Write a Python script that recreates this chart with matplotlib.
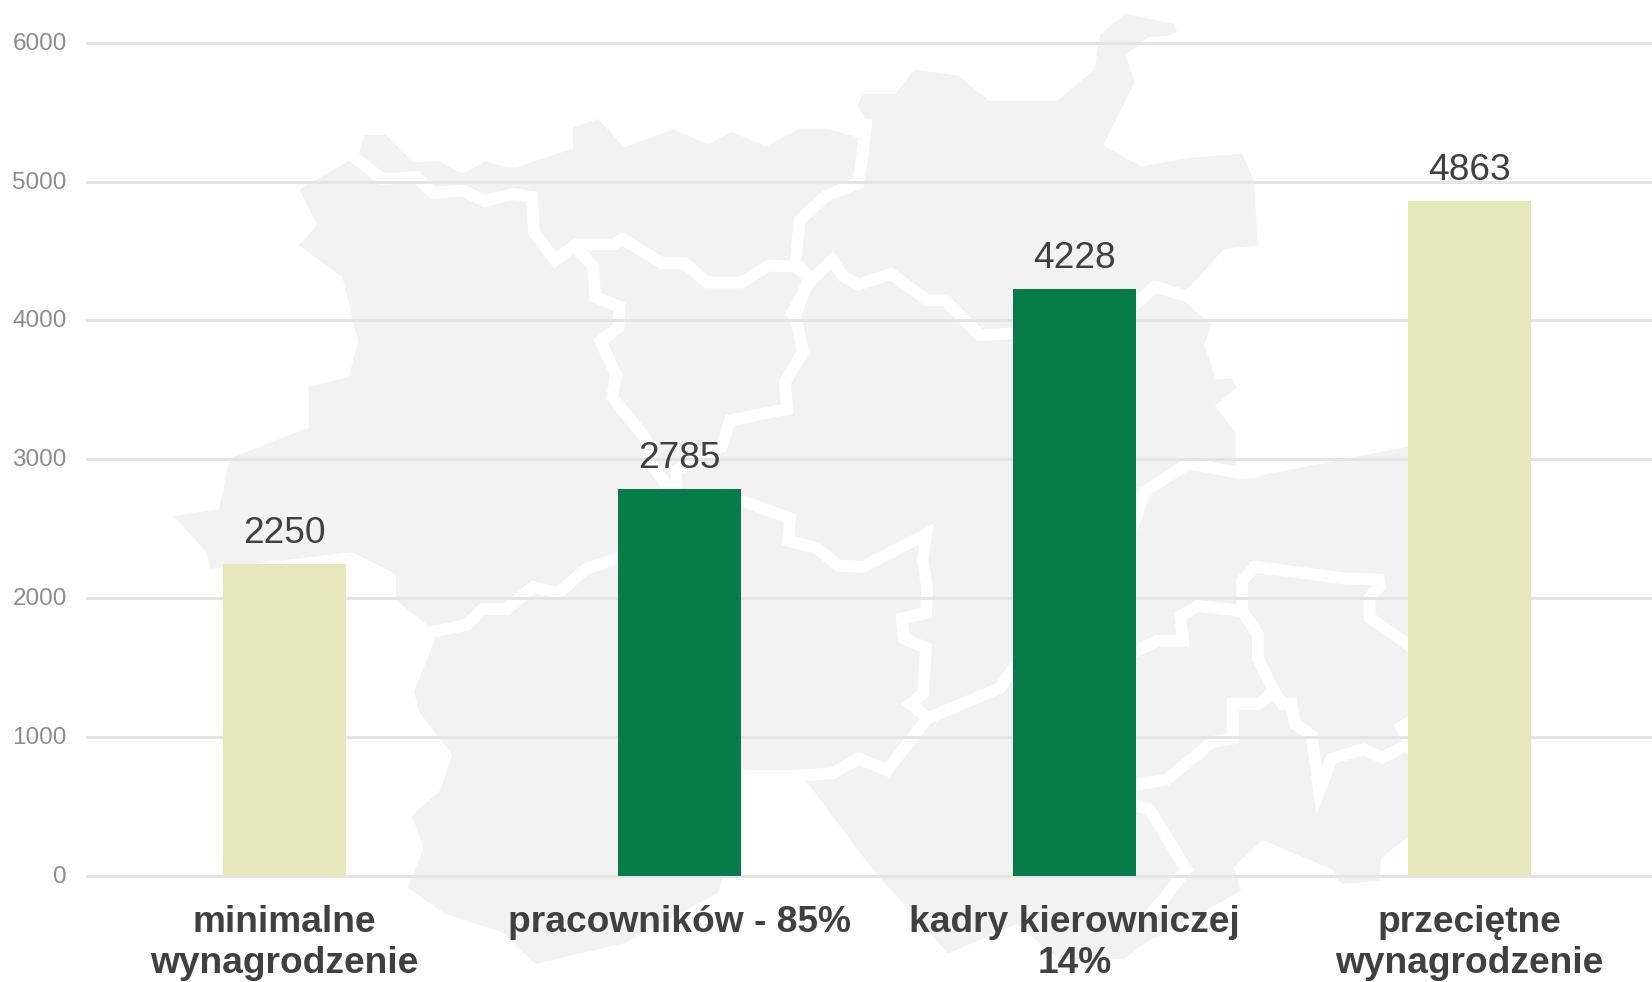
import matplotlib.pyplot as plt
from matplotlib.transforms import ScaledTranslation

plt.rcParams['font.family'] = ['Liberation Sans', 'DejaVu Sans']

categories = ['minimalne\nwynagrodzenie', 'pracowników - 85%', 'kadry kierowniczej\n14%', 'przeciętne\nwynagrodzenie']
values = [2250, 2785, 4228, 4863]
bar_colors = ['#e5e6b9', '#087c48', '#087c48', '#e5e6b9']
y_ticks = [0, 1000, 2000, 3000, 4000, 5000, 6000]

# background map, traced in pixels of the 1568x932 view
map_outline = [(346, 128), (366, 128), (392, 154), (417, 153), (439, 165), (461, 153), (473, 157), (489, 159),
               (544, 141), (544, 121), (568, 113), (592, 140), (639, 123), (673, 137), (694, 125), (727, 139),
               (759, 122), (784, 122), (816, 131), (826, 120), (814, 100), (819, 89), (850, 89), (868, 66),
               (910, 72), (939, 96), (1003, 96), (1039, 66), (1044, 33), (1068, 13), (1115, 23), (1117, 30),
               (1109, 34), (1091, 35), (1068, 52), (1077, 78), (1047, 138), (1083, 158), (1129, 150), (1179, 146),
               (1190, 171), (1194, 233), (1162, 236), (1126, 276), (1124, 286), (1150, 308), (1143, 327), (1154, 360),
               (1169, 359), (1174, 368), (1153, 385), (1173, 411), (1173, 442), (1182, 454), (1336, 424), (1400, 410),
               (1400, 780), (1336, 795), (1311, 814), (1309, 836), (1274, 839), (1264, 825), (1198, 797), (1171, 823),
               (1178, 845), (1142, 866), (1118, 880), (1090, 893), (1067, 910), (1005, 910), (965, 877), (900, 905),
               (829, 826), (765, 741), (765, 731), (700, 731), (685, 833), (682, 847), (593, 895), (508, 915),
               (477, 885), (422, 867), (387, 843), (402, 805), (391, 774), (418, 750), (429, 716), (398, 676),
               (393, 656), (413, 607), (408, 595), (376, 570), (376, 545), (334, 524), (200, 540), (195, 523),
               (165, 490), (208, 483), (218, 435), (293, 406), (293, 367), (331, 358), (340, 324), (325, 263),
               (284, 233), (301, 213), (284, 180), (331, 153), (341, 145)]
map_borders = [
    [(336, 149), (363, 170), (395, 168), (411, 183), (440, 181), (460, 191), (488, 184), (505, 187), (507, 221),
     (527, 247), (547, 232), (583, 232), (591, 227), (629, 250), (650, 250), (671, 268), (704, 268), (730, 252),
     (755, 253), (768, 263)],
    [(547, 235), (563, 253), (565, 282), (588, 291), (587, 311), (570, 324), (585, 356), (581, 377), (612, 415),
     (620, 443), (631, 458), (631, 470)],
    [(768, 263), (755, 250), (759, 209), (784, 186), (814, 174), (818, 152), (822, 118)],
    [(768, 263), (755, 299), (762, 334), (745, 363), (747, 388), (693, 399), (685, 424), (642, 446), (642, 470)],
    [(752, 297), (768, 268), (790, 247), (800, 262), (815, 270), (846, 260), (880, 285), (897, 285), (930, 318),
     (970, 316)],
    [(1070, 295), (1096, 272), (1126, 281), (1140, 272)],
    [(1075, 500), (1087, 466), (1128, 440), (1177, 449), (1190, 448)],
    [(404, 601), (443, 593), (458, 578), (481, 578), (506, 557), (530, 563), (556, 540), (600, 525)],
    [(690, 470), (750, 492), (748, 513), (775, 520), (796, 537), (819, 538), (879, 507), (876, 532), (880, 558),
     (879, 582), (856, 587), (858, 606), (879, 615), (876, 658), (864, 668), (879, 680)],
    [(760, 736), (790, 734), (815, 720), (842, 731), (880, 682), (949, 653), (965, 630)],
    [(1070, 622), (1099, 608), (1123, 608), (1120, 585), (1137, 575), (1179, 580), (1194, 602), (1194, 625),
     (1209, 656), (1217, 668), (1226, 668), (1229, 687), (1245, 698), (1252, 751), (1264, 720), (1294, 711),
     (1312, 719), (1345, 702)],
    [(1179, 580), (1179, 551), (1191, 538), (1277, 549), (1309, 550), (1310, 556), (1300, 567), (1300, 586),
     (1345, 618)],
    [(1209, 656), (1195, 668), (1170, 668), (1170, 701), (1151, 704), (1107, 740), (1070, 746)],
    [(1070, 762), (1091, 768), (1126, 825), (1104, 854), (1095, 864)],
    [(1340, 684), (1330, 690), (1338, 708)],
]

fig = plt.figure(figsize=(16.52, 9.82), dpi=100)

bg = fig.add_axes([0, 0, 1, 1], zorder=0)
bg.set_xlim(0, 1568)
bg.set_ylim(932, 0)
bg.axis('off')
bg.fill([p[0] for p in map_outline], [p[1] for p in map_outline], color='#f2f2f2', lw=0)
for line in map_borders:
    bg.plot([p[0] for p in line], [p[1] for p in line], color='white', lw=8.5, solid_joinstyle='miter')

ax = fig.add_axes([87 / 1652, 106 / 982, 1565 / 1652, 833.3 / 982], zorder=1)
ax.patch.set_alpha(0)
x = range(len(values))
ax.bar(x, values, width=0.312, color=bar_colors, zorder=3)
for i, v in zip(x, values):
    ax.annotate(str(v), (i, v), xytext=(0, 15), textcoords='offset points', ha='center', va='baseline',
                fontsize=26.7, color='#404040', zorder=4)

ax.set_xlim(-0.5, 3.462)
ax.set_ylim(0, 6000)
ax.set_yticks(y_ticks)
ax.set_xticks(list(x))
ax.set_xticklabels(categories, fontsize=26.7, fontweight='bold', color='#404040', linespacing=1.22)
ax.tick_params(axis='y', length=0, pad=14.5, labelsize=17.5, labelcolor='#8c8c8c')
ax.tick_params(axis='x', length=0, pad=21)
up = ScaledTranslation(0, 1.5 / 100, fig.dpi_scale_trans)
for lab in ax.get_yticklabels():
    lab.set_transform(lab.get_transform() + up)
ax.grid(axis='y', color='#e4e4e4', lw=2.2, zorder=1)
for gl in ax.get_ygridlines():
    gl.set_clip_on(False)
for s in ax.spines.values():
    s.set_visible(False)

plt.savefig('out.png', dpi=100)
